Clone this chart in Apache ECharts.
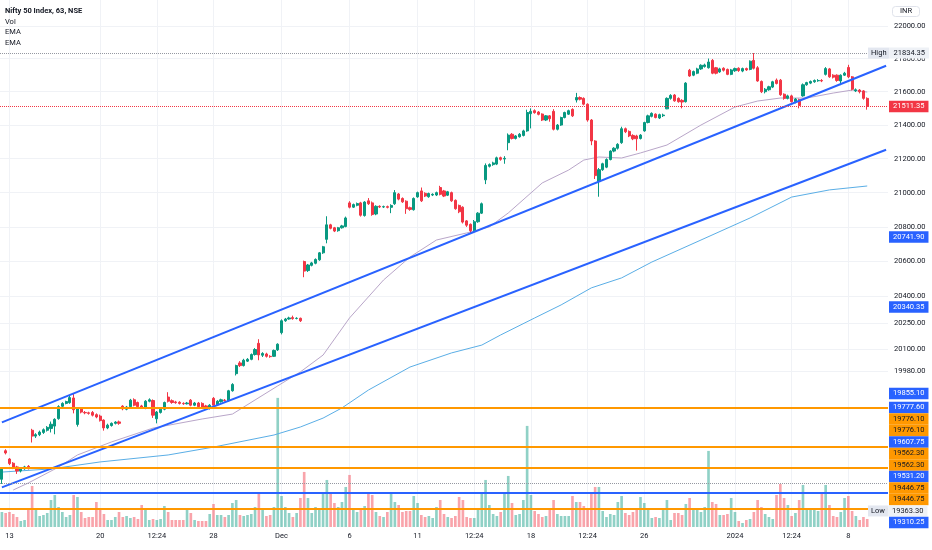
<!DOCTYPE html>
<html>
<head>
<meta charset="utf-8">
<title>Nifty 50 Index, 63, NSE</title>
<script src="https://cdn.jsdelivr.net/npm/echarts@6/dist/echarts.min.js"></script>
<style>
  html, body { margin: 0; padding: 0; background: #fff; }
  #chart { width: 932px; height: 550px; }
</style>
</head>
<body>
<div id="chart"></div>
<script>
// bars: 63 minute candles, 6 per NSE session
const sessionTimes = ["09:15", "10:18", "11:21", "12:24", "13:27", "14:30"];
const leadBars = ["2023-11-10 14:30", "2023-11-12 18:15"];
const tradingDays = [
	"2023-11-13", "2023-11-15", "2023-11-16", "2023-11-17", "2023-11-20", "2023-11-21",
	"2023-11-22", "2023-11-23", "2023-11-24", "2023-11-28", "2023-11-29", "2023-11-30",
	"2023-12-01", "2023-12-04", "2023-12-05", "2023-12-06", "2023-12-07", "2023-12-08",
	"2023-12-11", "2023-12-12", "2023-12-13", "2023-12-14", "2023-12-15", "2023-12-18",
	"2023-12-19", "2023-12-20", "2023-12-21", "2023-12-22", "2023-12-26", "2023-12-27",
	"2023-12-28", "2023-12-29", "2024-01-01", "2024-01-02", "2024-01-03", "2024-01-04",
	"2024-01-05", "2024-01-08",
];
// empty space on the right of the last bar
const futureBars = ["2024-01-09 09:15", "2024-01-09 10:18", "2024-01-09 11:21", "2024-01-09 12:24", "2024-01-09 13:27"];

// time scale labels
const tickBars = [
	"2023-11-13 09:15", "2023-11-20 09:15", "2023-11-22 12:24", "2023-11-28 09:15",
	"2023-12-01 09:15", "2023-12-06 09:15", "2023-12-11 09:15", "2023-12-13 12:24",
	"2023-12-18 09:15", "2023-12-20 12:24", "2023-12-26 09:15", "2024-01-01 09:15",
	"2024-01-03 12:24", "2024-01-08 09:15",
];
const tickText = ["13", "20", "12:24", "28", "Dec", "6", "11", "12:24", "18", "12:24", "26", "2024", "12:24", "8"];

// price scale labels
const priceTicks = [22000, 21800, 21600, 21400, 21200, 21000, 20800, 20600, 20400, 20250, 20100, 19980];

// [open, close, low, high]
const candles = [
	[19385, 19440, 19360, 19450], [19540, 19528, 19520, 19548],
	// Nov 13
	[19495, 19470, 19462, 19500], [19472, 19450, 19440, 19478], [19452, 19430, 19414, 19458],
	[19430, 19442, 19422, 19450], [19442, 19452, 19436, 19458], [19455, 19443, 19438, 19462],
	// Nov 15
	[19652, 19620, 19585, 19660], [19620, 19628, 19610, 19636], [19628, 19642, 19620, 19650],
	[19640, 19655, 19632, 19662], [19652, 19668, 19645, 19675], [19662, 19685, 19640, 19700],
	// Nov 16
	[19675, 19712, 19630, 19718], [19716, 19782, 19710, 19790], [19784, 19800, 19778, 19806],
	[19800, 19810, 19795, 19815], [19804, 19832, 19798, 19845], [19830, 19765, 19745, 19855.1],
	// Nov 17
	[19684, 19770, 19672, 19778], [19772, 19752, 19745, 19780], [19750, 19748, 19740, 19758],
	[19748, 19745, 19738, 19754], [19750, 19735, 19728, 19758], [19738, 19725, 19718, 19745],
	// Nov 20
	[19730, 19705, 19700, 19738], [19708, 19665, 19650, 19712], [19665, 19680, 19658, 19688],
	[19678, 19690, 19672, 19695], [19690, 19697, 19684, 19702], [19698, 19690, 19682, 19705],
	// Nov 21
	[19785, 19770, 19762, 19790], [19768, 19780, 19762, 19786], [19782, 19818, 19778, 19825],
	[19820, 19790, 19784, 19828], [19805, 19782, 19776, 19810], [19786, 19778, 19770, 19792],
	// Nov 22
	[19775, 19812, 19768, 19818], [19812, 19820, 19806, 19828], [19816, 19735, 19720, 19822],
	[19715, 19752, 19690, 19758], [19750, 19768, 19744, 19775], [19768, 19805, 19762, 19810],
	// Nov 23
	[19835, 19812, 19805, 19862], [19815, 19805, 19798, 19822], [19808, 19804, 19798, 19814],
	[19806, 19800, 19794, 19812], [19800, 19798, 19792, 19806], [19798, 19802, 19794, 19808],
	// Nov 24
	[19818, 19790, 19784, 19824], [19790, 19802, 19785, 19808], [19802, 19782, 19776, 19808],
	[19800, 19780, 19774, 19806], [19786, 19770, 19764, 19792], [19772, 19790, 19766, 19796],
	// Nov 28
	[19828, 19790, 19784, 19835], [19792, 19812, 19786, 19818], [19810, 19820, 19804, 19826],
	[19818, 19816, 19810, 19824], [19815, 19870, 19810, 19875], [19870, 19905, 19865, 19912],
	// Nov 29
	[19965, 20010, 19955, 20015], [20025, 20010, 20002, 20035], [20010, 20040, 20005, 20048],
	[20035, 20045, 20030, 20052], [20045, 20072, 20040, 20078], [20072, 20100, 20066, 20108],
	// Nov 30
	[20135, 20070, 20040, 20158], [20068, 20078, 20058, 20085], [20075, 20062, 20055, 20082],
	[20062, 20060, 20054, 20068], [20062, 20095, 20058, 20100], [20098, 20130, 20092, 20135],
	// Dec 1
	[20195, 20262, 20185, 20270], [20262, 20272, 20256, 20278], [20272, 20278, 20268, 20285],
	[20280, 20274, 20268, 20291], [20275, 20276, 20270, 20282], [20276, 20262, 20255, 20280],
	// Dec 4
	[20600, 20545, 20510, 20605], [20548, 20580, 20540, 20586], [20578, 20592, 20572, 20598],
	[20590, 20612, 20584, 20618], [20610, 20650, 20604, 20655], [20650, 20685, 20644, 20690],
	// Dec 5
	[20728, 20812, 20705, 20862], [20812, 20792, 20786, 20818], [20795, 20776, 20770, 20800],
	[20778, 20795, 20772, 20800], [20795, 20806, 20790, 20812], [20802, 20852, 20798, 20860],
	// Dec 6
	[20940, 20915, 20908, 20950], [20915, 20930, 20910, 20936], [20926, 20936, 20920, 20942],
	[20940, 20868, 20860, 20946], [20866, 20945, 20860, 20950], [20952, 20935, 20928, 20968],
	// Dec 7
	[20940, 20872, 20865, 20948], [20875, 20920, 20868, 20926], [20920, 20916, 20910, 20926],
	[20916, 20918, 20910, 20924], [20918, 20914, 20908, 20924], [20914, 20925, 20880, 20932],
	// Dec 8
	[20935, 21000, 20928, 21015], [20992, 20962, 20955, 20998], [20966, 20946, 20940, 20972],
	[20950, 20906, 20876, 20955], [20912, 20902, 20894, 20918], [20900, 20966, 20895, 20972],
	// Dec 11
	[20975, 21000, 20970, 21006], [21010, 20952, 20945, 21030], [20996, 20980, 20974, 21002],
	[20976, 20995, 20970, 21000], [20986, 20990, 20980, 20996], [20986, 21000, 20980, 21006],
	// Dec 12
	[21030, 20990, 20984, 21040], [21010, 20980, 20974, 21016], [20985, 21005, 20980, 21010],
	[21000, 20952, 20946, 21006], [20955, 20906, 20900, 20960], [20925, 20888, 20880, 20930],
	// Dec 13
	[20915, 20828, 20820, 20920], [20835, 20810, 20800, 20840], [20815, 20778, 20765, 20820],
	[20780, 20830, 20768, 20840], [20830, 20880, 20824, 20886], [20880, 20935, 20875, 20942],
	// Dec 14
	[21075, 21160, 21050, 21172], [21155, 21165, 21148, 21172], [21165, 21175, 21158, 21182],
	[21168, 21205, 21162, 21212], [21206, 21196, 21188, 21212], [21198, 21202, 21170, 21215],
	// Dec 15
	[21295, 21340, 21250, 21350], [21345, 21320, 21314, 21352], [21320, 21335, 21314, 21340],
	[21330, 21345, 21325, 21352], [21338, 21365, 21332, 21372], [21365, 21475, 21360, 21492],
	// Dec 18
	[21468, 21482, 21380, 21500], [21486, 21474, 21468, 21494], [21478, 21464, 21458, 21484],
	[21466, 21430, 21424, 21470], [21430, 21455, 21424, 21460], [21455, 21438, 21420, 21460],
	// Dec 19
	[21482, 21375, 21368, 21495], [21375, 21400, 21368, 21406], [21400, 21445, 21395, 21450],
	[21445, 21475, 21440, 21480], [21465, 21486, 21460, 21492], [21494, 21455, 21448, 21500],
	// Dec 20
	[21550, 21565, 21535, 21593], [21565, 21555, 21548, 21572], [21560, 21525, 21518, 21566],
	[21525, 21430, 21420, 21530], [21430, 21305, 21280, 21436], [21305, 21100, 21080, 21310],
	// Dec 21
	[21065, 21135, 20976, 21145], [21135, 21170, 21128, 21176], [21150, 21195, 21144, 21202],
	[21195, 21245, 21190, 21250], [21245, 21262, 21238, 21268], [21262, 21285, 21254, 21292],
	// Dec 22
	[21295, 21378, 21288, 21390], [21378, 21360, 21352, 21385], [21362, 21335, 21328, 21368],
	[21338, 21318, 21310, 21345], [21335, 21318, 21248, 21342], [21320, 21340, 21314, 21346],
	// Dec 26
	[21365, 21415, 21360, 21420], [21415, 21455, 21410, 21462], [21452, 21470, 21446, 21476],
	[21465, 21445, 21440, 21470], [21442, 21462, 21436, 21468], [21456, 21460, 21448, 21468],
	// Dec 27
	[21497, 21560, 21495, 21566], [21560, 21578, 21552, 21585], [21580, 21545, 21540, 21586],
	[21560, 21540, 21534, 21566], [21548, 21538, 21500, 21555], [21540, 21652, 21535, 21658],
	// Dec 28
	[21730, 21695, 21690, 21738], [21700, 21722, 21694, 21728], [21712, 21738, 21706, 21745],
	[21738, 21760, 21732, 21766], [21752, 21762, 21746, 21770], [21745, 21780, 21740, 21801],
	// Dec 29
	[21790, 21712, 21706, 21798], [21745, 21712, 21705, 21750], [21720, 21738, 21714, 21745],
	[21742, 21730, 21722, 21748], [21735, 21705, 21700, 21740], [21705, 21732, 21700, 21738],
	// Jan 1
	[21727, 21740, 21720, 21746], [21742, 21728, 21720, 21748], [21725, 21740, 21718, 21746],
	[21740, 21732, 21726, 21746], [21735, 21785, 21730, 21790], [21790, 21742, 21735, 21834.35],
	// Jan 2
	[21745, 21665, 21660, 21755], [21662, 21600, 21592, 21668], [21600, 21615, 21590, 21622],
	[21612, 21630, 21606, 21636], [21628, 21660, 21622, 21666], [21670, 21650, 21644, 21680],
	// Jan 3
	[21670, 21582, 21575, 21677], [21585, 21560, 21552, 21590], [21560, 21575, 21554, 21582],
	[21575, 21540, 21535, 21582], [21540, 21556, 21530, 21562], [21552, 21517, 21500, 21558],
	// Jan 4
	[21575, 21642, 21570, 21650], [21642, 21655, 21636, 21660], [21652, 21662, 21646, 21668],
	[21660, 21668, 21654, 21674], [21666, 21668, 21660, 21676], [21668, 21665, 21658, 21676],
	// Jan 5
	[21705, 21740, 21698, 21749], [21738, 21690, 21684, 21744], [21700, 21688, 21680, 21706],
	[21700, 21668, 21660, 21705], [21665, 21700, 21640, 21705], [21700, 21712, 21695, 21720],
	// Jan 8
	[21747, 21690, 21682, 21763], [21690, 21615, 21608, 21695], [21605, 21612, 21598, 21620],
	[21610, 21600, 21590, 21616], [21605, 21560, 21552, 21610], [21560, 21511.35, 21492, 21566],
];

// volume per bar (lakh)
const volumes = [
	15, 14, 15, 13, 10, 6, 7, 19, 41, 19, 11, 12, 14, 27, 32, 20, 15, 10, 12, 32,
	30, 15, 9, 10, 10, 25, 19, 13, 7, 7, 10, 15, 10, 11, 9, 10, 8, 22, 19, 7,
	8, 7, 8, 21, 15, 7, 7, 7, 7, 17, 14, 7, 6, 6, 6, 13, 23, 12, 12, 10,
	12, 24, 27, 12, 11, 12, 13, 20, 33, 17, 11, 12, 20, 129, 31, 20, 14, 10, 14, 29,
	55, 29, 14, 20, 17, 34, 47, 34, 24, 20, 25, 40, 52, 19, 15, 17, 21, 34, 32, 15,
	11, 10, 15, 34, 25, 22, 15, 16, 16, 31, 24, 12, 10, 11, 9, 20, 27, 13, 10, 9,
	11, 30, 27, 10, 9, 9, 18, 34, 47, 22, 13, 11, 15, 35, 51, 24, 12, 13, 27, 101,
	32, 16, 13, 10, 11, 17, 27, 13, 11, 11, 11, 31, 25, 25, 21, 18, 34, 40, 40, 16,
	10, 13, 12, 25, 31, 14, 12, 15, 18, 30, 24, 18, 9, 10, 9, 17, 27, 7, 14, 14,
	12, 23, 29, 18, 18, 15, 20, 76, 25, 23, 12, 12, 13, 29, 15, 6, 4, 7, 8, 15,
	27, 20, 13, 10, 8, 32, 43, 29, 22, 11, 14, 27, 42, 19, 19, 17, 16, 34, 42, 22,
	11, 10, 15, 29, 31, 16, 11, 7, 10, 8,
];

// EMA lines: [bar index, value]
const emaFast = [
	[3, 19327], [7, 19365], [15, 19451], [20, 19517], [29, 19588], [40, 19664], [53, 19714],
	[61, 19741], [67, 19819], [73, 19897], [79, 19975], [85, 20069], [92, 20278], [101, 20494],
	[108, 20626], [115, 20724], [123, 20765], [129, 20800], [134, 20881], [143, 21057], [150, 21133],
	[154, 21192], [158, 21210], [164, 21204], [169, 21234], [176, 21281], [185, 21400], [194, 21508],
	[200, 21544], [206, 21562], [213, 21562], [220, 21592], [225, 21610], [229, 21598],
];
const emaSlow = [
	[0, 19424], [13, 19441], [26, 19479], [44, 19517], [56, 19560], [72, 19626], [79, 19670],
	[85, 19719], [90, 19775], [97, 19874], [108, 20002], [119, 20081], [127, 20125], [132, 20182],
	[141, 20278], [148, 20352], [156, 20449], [164, 20506], [172, 20597], [185, 20724], [198, 20852],
	[209, 20974], [219, 21016], [229, 21039],
];

// drawings
const upperTrend = [[0, 19695], [234, 21757]];
const lowerTrend = [[0, 19341], [234, 21253]];
const orangeLevels = [19776.1, 19562.3, 19446.75, 19228.0];
const orangeTags = [19776.1, 19776.1, 19562.3, 19562.3, 19446.75, 19446.75];
const blueLevel = 19310.25;
const anchorTags = [20741.9, 20340.35, 19855.1, 19777.6, 19607.75, 19531.2];
const dayHigh = 21834.35;
const dayLow = 19363.3;
const lastPrice = 21511.35;

const FONT = "Roboto";
const FS = 7.5;
const TAG_H = 11.5;
const UP = "#089981";
const DOWN = "#f23645";
const BLUE = "#2962ff";
const ORANGE = "#ff9800";

const categories = leadBars.concat(
	tradingDays.flatMap(d => sessionTimes.map(t => d + " " + t)),
	futureBars
);
const tickMap = {};
tickBars.forEach((c, i) => (tickMap[c] = tickText[i]));
const showTick = (idx, val) => tickMap[categories[idx]] !== undefined;

const volumeData = volumes.map((v, i) => ({
	value: v,
	itemStyle: {
		color: candles[i][1] >= candles[i][0] ? "rgba(8,153,129,0.45)" : "rgba(242,54,69,0.45)",
	},
}));

function levelLine(value, color, type, width) {
	return { yAxis: value, lineStyle: { color, type, width }, label: { show: false } };
}

const baseLines = [
	[{ coord: upperTrend[0] }, { coord: upperTrend[1], lineStyle: { color: BLUE, width: 2, type: "solid" } }],
	[{ coord: lowerTrend[0] }, { coord: lowerTrend[1], lineStyle: { color: BLUE, width: 2, type: "solid" } }],
	levelLine(dayHigh, "#9598a1", "dotted", 1),
	levelLine(dayLow, "#9598a1", "dotted", 1),
	levelLine(lastPrice, DOWN, "dotted", 1),
	...orangeLevels.map(v => levelLine(v, ORANGE, "solid", 2)),
	levelLine(blueLevel, BLUE, "solid", 2),
];

const tags = [
	{ value: dayHigh, kind: "high" },
	{ value: lastPrice, kind: "last" },
	...anchorTags.map(v => ({ value: v, kind: "blue" })),
	...orangeTags.map(v => ({ value: v, kind: "orange" })),
	{ value: blueLevel, kind: "blue" },
	{ value: dayLow, kind: "low" },
].sort((a, b) => b.value - a.value);

function makeTag(tag, dy) {
	const base = {
		show: true,
		position: "end",
		distance: 1,
		fontFamily: FONT,
		fontSize: FS,
		lineHeight: 8.5,
		offset: [0, dy],
	};
	let label;
	if (tag.kind === "high" || tag.kind === "low") {
		const word = tag.kind === "high" ? "High" : "Low";
		label = Object.assign(base, {
			offset: [-21, dy],
			color: "#131722",
			formatter: "{t|" + word + "}{v|" + tag.value.toFixed(2) + "}",
			rich: {
				t: { backgroundColor: "#e3e7f0", color: "#131722", padding: [1.5, 3], fontSize: FS, fontFamily: FONT, lineHeight: 8.5 },
				v: { backgroundColor: "#eef1f6", color: "#131722", padding: [1.5, 4], fontSize: FS, fontFamily: FONT, lineHeight: 8.5 },
			},
		});
	} else {
		const bg = { blue: BLUE, orange: ORANGE, last: DOWN }[tag.kind];
		label = Object.assign(base, {
			formatter: tag.value.toFixed(2),
			backgroundColor: bg,
			color: tag.kind === "orange" ? "#131722" : "#ffffff",
			padding: [1.5, 4],
		});
	}
	return { yAxis: tag.value, lineStyle: { color: "rgba(0,0,0,0)", width: 1 }, label };
}

const option = {
	animation: false,
	backgroundColor: "#ffffff",
	textStyle: { fontFamily: FONT },
	title: [
		{
			text: "Nifty 50 Index, 63, NSE",
			left: 5,
			top: 5.6,
			padding: 0,
			textStyle: { fontFamily: FONT, fontSize: FS, fontWeight: "bold", color: "#131722", lineHeight: 10.8 },
		},
		{
			text: "Vol\nEMA\nEMA",
			left: 5,
			top: 16.4,
			padding: 0,
			textStyle: { fontFamily: FONT, fontSize: FS, fontWeight: "normal", color: "#131722", lineHeight: 10.8 },
		},
		{
			text: "INR",
			left: 892,
			top: 6,
			padding: [1, 8],
			borderColor: "#e0e3eb",
			borderWidth: 1,
			borderRadius: 3,
			textStyle: { fontFamily: FONT, fontSize: FS, fontWeight: "normal", color: "#131722", lineHeight: 9 },
		},
	],
	grid: { left: -2, right: 44, top: 0, bottom: 23 },
	xAxis: {
		type: "category",
		data: categories,
		boundaryGap: true,
		axisLine: { show: false },
		axisTick: { show: false },
		axisLabel: {
			interval: showTick,
			formatter: (val) => tickMap[val] || "",
			color: "#131722",
			fontFamily: FONT,
			fontSize: FS,
			margin: 5,
		},
		splitLine: { show: true, interval: showTick, alignWithLabel: true, lineStyle: { color: "#f0f2f6", width: 1 } },
	},
	yAxis: [
		{
			type: "log",
			logBase: 10,
			position: "right",
			min: 19128.4,
			max: 22160.3,
			axisLine: { show: false },
			axisTick: { show: false, customValues: priceTicks },
			axisLabel: {
				customValues: priceTicks,
				formatter: v => Number(v).toFixed(2),
				color: "#131722",
				fontFamily: FONT,
				fontSize: FS,
				margin: 6,
			},
			splitLine: { show: true, lineStyle: { color: "#f0f2f6", width: 1 } },
		},
		{
			type: "value",
			min: 0,
			max: Math.max(...volumes) / 0.245,
			show: false,
			splitLine: { show: false },
		},
	],
	series: [
		{
			name: "Vol",
			type: "bar",
			yAxisIndex: 1,
			barWidth: "70%",
			data: volumeData,
			z: 1,
		},
		{
			name: "EMA fast",
			type: "line",
			data: emaFast,
			showSymbol: false,
			lineStyle: { color: "#b9a6c9", width: 1 },
			z: 2,
		},
		{
			name: "EMA slow",
			type: "line",
			data: emaSlow,
			showSymbol: false,
			lineStyle: { color: "#5aaee6", width: 1 },
			z: 2,
		},
		{
			id: "price",
			name: "Nifty 50",
			type: "candlestick",
			data: candles,
			barWidth: "70%",
			itemStyle: { color: UP, color0: DOWN, borderColor: UP, borderColor0: DOWN, borderWidth: 1 },
			z: 3,
			markLine: {
				silent: true,
				symbol: "none",
				animation: false,
				label: { show: false },
				data: baseLines,
			},
		},
	],
};

const chart = echarts.init(document.getElementById("chart"));
chart.setOption(option);

// stack the price scale tags so they don't overlap
let prevY = -Infinity;
const tagItems = tags.map(tag => {
	const natural = chart.convertToPixel({ yAxisIndex: 0 }, tag.value);
	const y = Math.max(natural, prevY + TAG_H);
	prevY = y;
	return makeTag(tag, y - natural);
});
chart.setOption({ series: [{ id: "price", markLine: { data: baseLines.concat(tagItems) } }] });

window.onresize = function () {
	chart.resize();
};
</script>
</body>
</html>
